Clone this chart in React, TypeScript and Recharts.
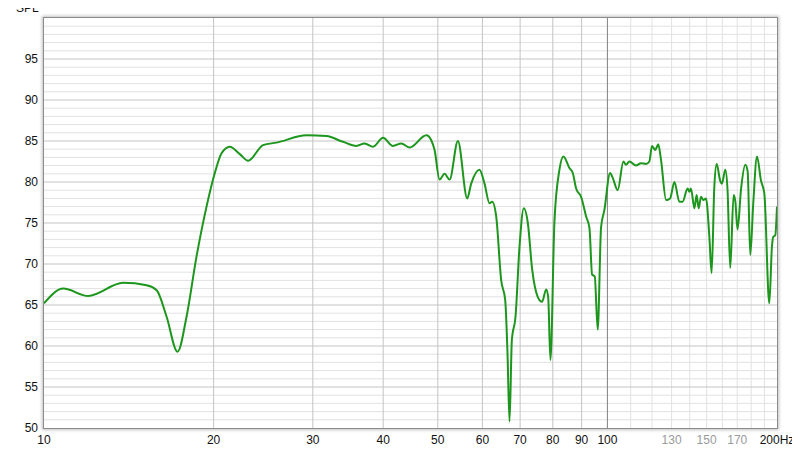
import React from 'react';
import { LineChart, Line, XAxis, YAxis, ReferenceLine } from 'recharts';

// frequency (Hz) and SPL (dB)
const freqs = [
  10.0, 10.82, 11.98, 13.82, 15.21, 15.85, 16.5, 17.26, 17.91, 18.65, 19.43, 20.1, 20.66, 21.37, 22.26,
  23.03, 24.48, 25.86, 29.23, 31.71, 33.94, 35.84, 37.08, 38.37, 39.97, 41.62, 43.07, 44.57, 47.71, 48.68,
  49.35, 50.36, 51.4, 52.47, 54.28, 56.39, 57.31, 59.29, 60.52, 61.77, 62.45, 63.48, 64.79, 65.86, 66.48,
  67.03, 67.67, 68.7, 69.82, 71.06, 72.24, 73.54, 75.22, 76.59, 77.85, 78.5, 79.23, 80.54, 82.2, 83.56,
  85.62, 86.81, 88.0, 89.8, 91.67, 92.92, 93.95, 94.95, 96.12, 97.45, 98.79, 101.1, 102.2, 104.3, 106.76,
  107.9, 109.4, 112.4, 114.7, 117.1, 118.7, 120.0, 121.6, 123.1, 124.5, 127.1, 129.2, 131.5, 134.2, 136.0,
  138.8, 139.8, 140.7, 142.7, 144.0, 145.2, 146.6, 148.0, 149.6, 151.7, 153.1, 154.8, 156.3, 158.5, 159.7,
  161.9, 163.4, 165.2, 167.5, 168.7, 170.2, 172.7, 175.7, 177.4, 179.3, 181.5, 184.3, 187.3, 189.9, 193.8,
  195.9, 196.9, 198.6, 200,
];
const spl = [
  65.2, 67.0, 66.1, 67.7, 67.4, 66.8, 63.6, 59.3, 63.6, 70.9, 77.0, 81.1, 83.5, 84.3, 83.4,
  82.6, 84.5, 84.8, 85.7, 85.6, 84.9, 84.4, 84.7, 84.3, 85.4, 84.4, 84.7, 84.2, 85.7, 85.1,
  83.9, 80.3, 81.0, 80.3, 85.0, 78.0, 79.8, 81.5, 79.8, 77.4, 77.6, 75.8, 68.0, 65.6, 59.1,
  50.8, 60.7, 63.6, 72.1, 76.8, 75.0, 69.3, 66.0, 65.4, 66.9, 66.0, 58.3, 75.2, 81.5, 83.1,
  81.7, 81.1, 79.2, 78.2, 75.8, 74.4, 68.7, 68.5, 62.0, 74.5, 76.6, 81.1, 80.5, 79.0, 82.5,
  82.1, 82.5, 82.0, 82.3, 82.2, 82.5, 84.4, 83.9, 84.6, 82.7, 77.8, 78.0, 80.0, 77.6, 77.6,
  79.2, 78.8, 79.2, 76.8, 78.4, 76.8, 78.2, 77.8, 78.0, 73.3, 68.9, 79.4, 82.2, 80.2, 79.8,
  81.5, 79.0, 69.5, 78.4, 77.6, 74.2, 79.2, 82.1, 81.3, 71.1, 77.4, 83.1, 80.2, 78.6, 65.2,
  72.1, 73.3, 73.5, 77.0,
];

const xTicks = [10, 20, 30, 40, 50, 60, 70, 80, 90, 100, 130, 150, 170, 200];
const greyTicks = [130, 150, 170];
const yTicks = [50, 55, 60, 65, 70, 75, 80, 85, 90, 95];

const data = freqs.map((f, i) => ({ f, spl: spl[i] }));

const minorH: number[] = [];
for (let v = 51; v < 100; v++) if (v % 5 !== 0) minorH.push(v);
const majorH = [55, 60, 65, 70, 75, 80, 85, 90, 95];
const majorV = [20, 30, 40, 50, 60, 70, 80, 90];
const minorV = [110, 120, 130, 140, 150, 160, 170, 180, 190];

const font = '"Liberation Sans", Arial, sans-serif';

const XTick = (props: any) => {
  const { x, y, payload } = props;
  const v = payload.value;
  const grey = greyTicks.includes(v);
  return (
    <text x={x} y={y + 16} textAnchor="middle" fontSize={12} fontFamily={font} fill={grey ? '#9a9a9a' : '#111'}>
      {v === 200 ? '200Hz' : v}
    </text>
  );
};

const YTick = (props: any) => {
  const { x, y, payload } = props;
  return (
    <text x={x} y={y + 4} textAnchor="end" fontSize={12} fontFamily={font} fill="#111">
      {payload.value}
    </text>
  );
};

export default function App() {
  return (
    <div style={{ position: 'relative', width: 792, height: 440, background: '#fff' }}>
      <LineChart width={792} height={440} data={data} margin={{ top: 10, right: 23, left: 0, bottom: 0 }}>
        <XAxis
          dataKey="f"
          type="number"
          scale="log"
          domain={[10, 200]}
          ticks={xTicks}
          allowDataOverflow
          axisLine={false}
          tickLine={false}
          tickSize={0}
          tickMargin={0}
          height={20}
          tick={XTick}
          interval={0}
        />
        <YAxis
          type="number"
          domain={[50, 100]}
          ticks={yTicks}
          allowDataOverflow
          axisLine={false}
          tickLine={false}
          tickSize={0}
          tickMargin={6}
          width={36}
          tick={YTick}
          interval={0}
        />
        {minorH.map((v) => (
          <ReferenceLine key={'mh' + v} y={v} stroke="#e2e2e2" strokeWidth={1} />
        ))}
        {minorV.map((v) => (
          <ReferenceLine key={'mv' + v} x={v} stroke="#e2e2e2" strokeWidth={1} />
        ))}
        {majorH.map((v) => (
          <ReferenceLine key={'h' + v} y={v} stroke="#c4c4c4" strokeWidth={1} />
        ))}
        {majorV.map((v) => (
          <ReferenceLine key={'v' + v} x={v} stroke="#c4c4c4" strokeWidth={1} />
        ))}
        <ReferenceLine x={100} stroke="#808080" strokeWidth={1} />
        <Line
          type="monotone"
          dataKey="spl"
          stroke="#1c961c"
          strokeWidth={2}
          dot={false}
          isAnimationActive={false}
        />
      </LineChart>
      <div
        style={{
          position: 'absolute',
          left: 35,
          top: 9,
          width: 735,
          height: 412,
          boxSizing: 'border-box',
          border: '1px solid #8c8c8c',
          boxShadow: '0 0 3px 1px rgba(0,0,0,0.25)',
          pointerEvents: 'none',
        }}
      />
      <span
        style={{
          position: 'absolute',
          left: 8,
          top: -7,
          zIndex: 2,
          fontSize: 12,
          lineHeight: '14px',
          fontFamily: font,
          color: '#111',
        }}
      >
        SPL
      </span>
    </div>
  );
}
